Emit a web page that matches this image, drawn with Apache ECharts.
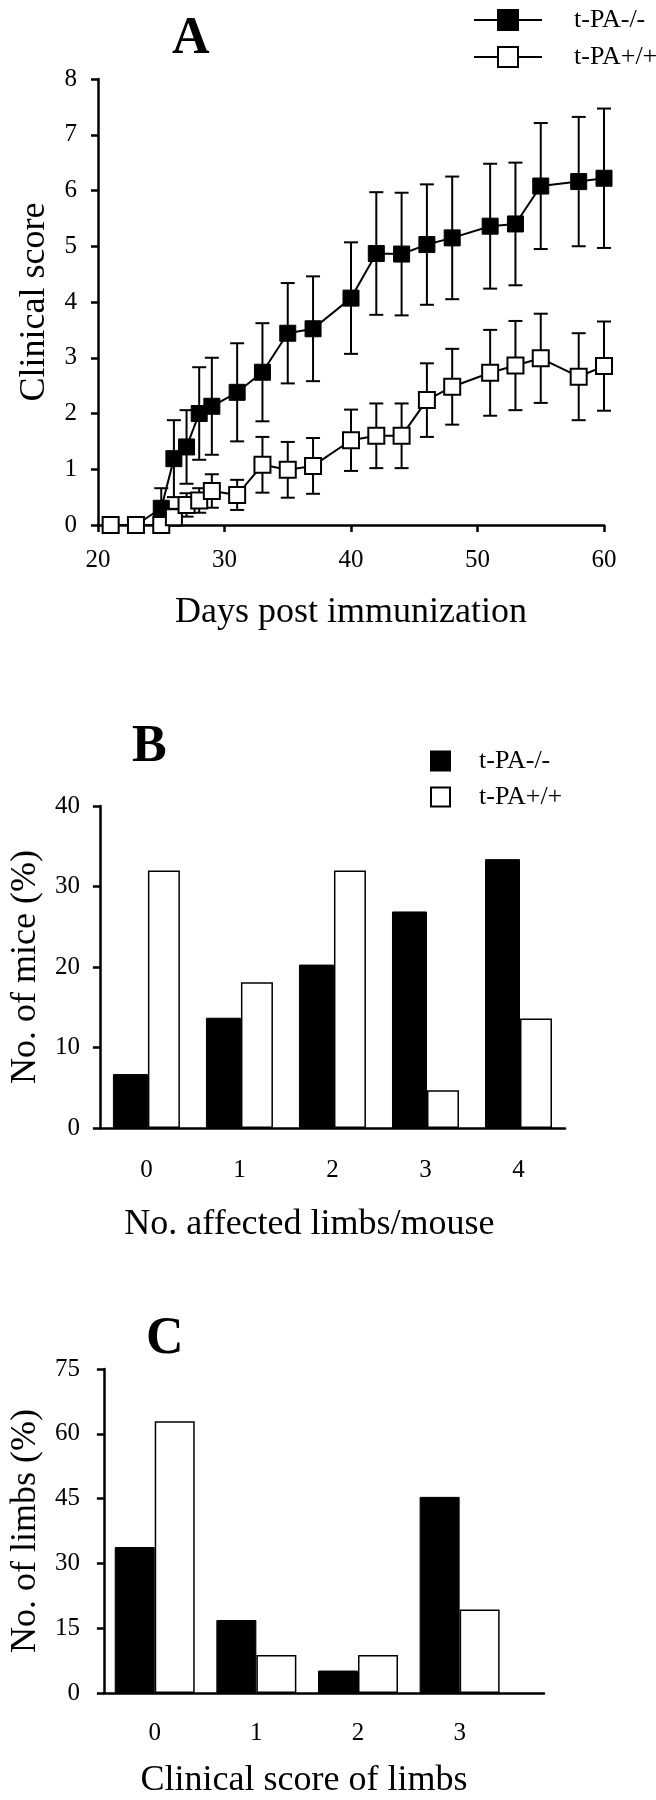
<!DOCTYPE html>
<html>
<head>
<meta charset="utf-8">
<script src="https://cdn.jsdelivr.net/npm/echarts@6/dist/echarts.min.js"></script>
<style>
html,body{margin:0;padding:0;background:#fff;}
#chart{width:656px;height:1800px;}
</style>
</head>
<body>
<div id="chart"></div>
<script>
// ---------- Panel A data ----------
var daysA = [21, 23, 25, 26, 27, 28, 29, 31, 33, 35, 37, 40, 42, 44, 46, 48, 51, 53, 55, 58, 60];
var koMean = [0, 0, 0.30, 1.19, 1.40, 2.00, 2.13, 2.38, 2.74, 3.44, 3.52, 4.07, 4.87, 4.86, 5.03, 5.15, 5.36, 5.40, 6.08, 6.16, 6.22];
var koSem  = [0, 0, 0.36, 0.69, 0.66, 0.83, 0.87, 0.88, 0.88, 0.90, 0.94, 1.00, 1.10, 1.10, 1.08, 1.10, 1.12, 1.10, 1.13, 1.16, 1.25];
var wtMean = [0, 0, 0, 0.14, 0.36, 0.44, 0.61, 0.54, 1.08, 0.99, 1.06, 1.52, 1.60, 1.60, 2.24, 2.48, 2.73, 2.86, 2.99, 2.66, 2.85];
var wtSem  = [0, 0, 0, 0.15, 0.21, 0.22, 0.30, 0.27, 0.50, 0.50, 0.50, 0.55, 0.58, 0.58, 0.66, 0.68, 0.77, 0.80, 0.80, 0.78, 0.80];

// ---------- Panel B data ----------
var catsB = ['0', '1', '2', '3', '4'];
var koB = [6.7, 13.7, 20.3, 26.9, 33.4];
var wtB = [32.0, 18.1, 32.0, 4.7, 13.6];

// ---------- Panel C data ----------
var catsC = ['0', '1', '2', '3'];
var koC = [33.8, 16.9, 5.2, 45.4];
var wtC = [62.9, 8.8, 8.8, 19.3];

var labelKO = 't-PA-/-';
var labelWT = 't-PA+/+';

var FONT = '"Liberation Serif", "Times New Roman", serif';

function errData(mean, sem) {
  var out = [];
  for (var i = 0; i < daysA.length; i++) {
    if (sem[i] > 0) out.push([daysA[i], mean[i] - sem[i], mean[i] + sem[i]]);
  }
  return out;
}
function errItem(params, api) {
  var x = api.value(0), lo = api.value(1), hi = api.value(2);
  var p1 = api.coord([x, hi]);
  var p2 = api.coord([x, lo]);
  var w = 7;
  var st = {stroke: '#000', lineWidth: 2};
  return {type: 'group', children: [
    {type: 'line', shape: {x1: p1[0], y1: p1[1], x2: p2[0], y2: p2[1]}, style: st},
    {type: 'line', shape: {x1: p1[0] - w, y1: p1[1], x2: p1[0] + w, y2: p1[1]}, style: st},
    {type: 'line', shape: {x1: p2[0] - w, y1: p2[1], x2: p2[0] + w, y2: p2[1]}, style: st}
  ]};
}
function pairs(xs, ys) { return xs.map(function (x, i) { return [x, ys[i]]; }); }

var tickOut = {show: true, inside: false, length: 7, lineStyle: {color: '#000', width: 2.5}};
var tickLbl = {color: '#000', fontFamily: FONT, fontSize: 25};
var nameStyle = {color: '#000', fontFamily: FONT, fontSize: 36};
function axisLine() { return {show: true, onZero: false, lineStyle: {color: '#000', width: 2.5}}; }

var chart = echarts.init(document.getElementById('chart'), null, {renderer: 'canvas'});
chart.setOption({
  backgroundColor: '#fff',
  animation: false,
  textStyle: {fontFamily: FONT, color: '#000'},
  grid: [
    {left: 98, right: 52, top: 79, bottom: 1275},
    {left: 92, right: 91, top: 806, bottom: 672},
    {left: 97, right: 112, top: 1369, bottom: 103}
  ],
  legend: [
    {
      data: ['A_ko', 'A_wt'],
      orient: 'vertical', left: 468, top: 2,
      itemWidth: 68, itemHeight: 25, itemGap: 11,
      formatter: function (n) { return n === 'A_ko' ? labelKO : labelWT; },
      textStyle: {color: '#000', fontFamily: FONT, fontSize: 26, lineHeight: 26, padding: [0, 0, 0, 27]},
      selectedMode: false
    },
    {
      data: ['B_ko', 'B_wt'],
      orient: 'vertical', left: 425, top: 743,
      icon: 'rect',
      itemWidth: 19, itemHeight: 19, itemGap: 10,
      formatter: function (n) { return n === 'B_ko' ? labelKO : labelWT; },
      textStyle: {color: '#000', fontFamily: FONT, fontSize: 26, lineHeight: 26, padding: [0, 0, 0, 24]},
      selectedMode: false
    }
  ],
  xAxis: [
    {
      gridIndex: 0, type: 'value', min: 20, max: 60, interval: 10,
      axisLine: axisLine(), axisTick: tickOut, splitLine: {show: false},
      axisLabel: Object.assign({margin: 23}, tickLbl),
      name: 'Days post immunization', nameLocation: 'middle', nameGap: 70,
      nameTextStyle: nameStyle
    },
    {
      gridIndex: 1, type: 'category', data: catsB,
      axisLine: axisLine(), axisTick: {show: false}, splitLine: {show: false},
      axisLabel: Object.assign({margin: 30}, tickLbl),
      name: 'No. affected limbs/mouse', nameLocation: 'middle', nameGap: 79,
      nameTextStyle: Object.assign({padding: [0, 46, 0, 0]}, nameStyle)
    },
    {
      gridIndex: 2, type: 'value', min: -0.5, max: 3.83, interval: 0.5,
      axisLine: axisLine(), axisTick: {show: false}, splitLine: {show: false},
      axisLabel: Object.assign({
        margin: 28,
        showMinLabel: false, showMaxLabel: false,
        formatter: function (v) { return (Math.abs(v - Math.round(v)) < 1e-6 && catsC[Math.round(v)] !== undefined) ? catsC[Math.round(v)] : ''; }
      }, tickLbl),
      name: 'Clinical score of limbs', nameLocation: 'middle', nameGap: 70,
      nameTextStyle: Object.assign({padding: [0, 40, 0, 0]}, nameStyle)
    }
  ],
  yAxis: [
    {
      gridIndex: 0, type: 'value', min: 0, max: 8, interval: 1,
      axisLine: axisLine(), axisTick: tickOut, splitLine: {show: false},
      axisLabel: Object.assign({margin: 21}, tickLbl),
      name: 'Clinical score', nameLocation: 'middle', nameGap: 45,
      nameTextStyle: nameStyle
    },
    {
      gridIndex: 1, type: 'value', min: 0, max: 40, interval: 10,
      axisLine: axisLine(), axisTick: tickOut, splitLine: {show: false},
      axisLabel: Object.assign({margin: 20}, tickLbl),
      name: 'No. of mice (%)', nameLocation: 'middle', nameGap: 51,
      nameTextStyle: nameStyle
    },
    {
      gridIndex: 2, type: 'value', min: 0, max: 75, interval: 15,
      axisLine: axisLine(), axisTick: tickOut, splitLine: {show: false},
      axisLabel: Object.assign({margin: 24}, tickLbl),
      name: 'No. of limbs (%)', nameLocation: 'middle', nameGap: 58,
      nameTextStyle: nameStyle
    }
  ],
  series: [
    {type: 'custom', name: 'errKO', xAxisIndex: 0, yAxisIndex: 0, renderItem: errItem,
     encode: {x: 0, y: [1, 2]}, data: errData(koMean, koSem), z: 1},
    {type: 'custom', name: 'errWT', xAxisIndex: 0, yAxisIndex: 0, renderItem: errItem,
     encode: {x: 0, y: [1, 2]}, data: errData(wtMean, wtSem), z: 1},
    {type: 'line', name: 'A_ko', xAxisIndex: 0, yAxisIndex: 0, data: pairs(daysA, koMean),
     symbol: 'rect', symbolSize: 16, lineStyle: {color: '#000', width: 2},
     itemStyle: {color: '#000', borderColor: '#000', borderWidth: 1}, z: 3},
    {type: 'line', name: 'A_wt', xAxisIndex: 0, yAxisIndex: 0, data: pairs(daysA, wtMean),
     symbol: 'rect', symbolSize: 16, lineStyle: {color: '#000', width: 2},
     itemStyle: {color: '#fff', borderColor: '#000', borderWidth: 2}, z: 4},
    {type: 'bar', name: 'B_ko', xAxisIndex: 1, yAxisIndex: 1, data: koB, barWidth: 35, barGap: '0%',
     itemStyle: {color: '#000', borderColor: '#000', borderWidth: 1}},
    {type: 'bar', name: 'B_wt', xAxisIndex: 1, yAxisIndex: 1, data: wtB, barWidth: 32, barGap: '0%',
     itemStyle: {color: '#fff', borderColor: '#000', borderWidth: 1.5}},
    {type: 'bar', name: 'C_ko', xAxisIndex: 2, yAxisIndex: 2, data: pairs(catsC.map(Number), koC), barWidth: 40, barGap: '0%',
     itemStyle: {color: '#000', borderColor: '#000', borderWidth: 1}},
    {type: 'bar', name: 'C_wt', xAxisIndex: 2, yAxisIndex: 2, data: pairs(catsC.map(Number), wtC), barWidth: 40, barGap: '0%',
     itemStyle: {color: '#fff', borderColor: '#000', borderWidth: 1.5}}
  ],
  graphic: [
    {type: 'text', left: 172, top: 14, style: {text: 'A', font: 'bold 52px ' + FONT, fill: '#000'}},
    {type: 'text', left: 132, top: 722, style: {text: 'B', font: 'bold 52px ' + FONT, fill: '#000'}},
    {type: 'text', left: 146, top: 1314, style: {text: 'C', font: 'bold 52px ' + FONT, fill: '#000'}}
  ]
});
</script>
</body>
</html>
